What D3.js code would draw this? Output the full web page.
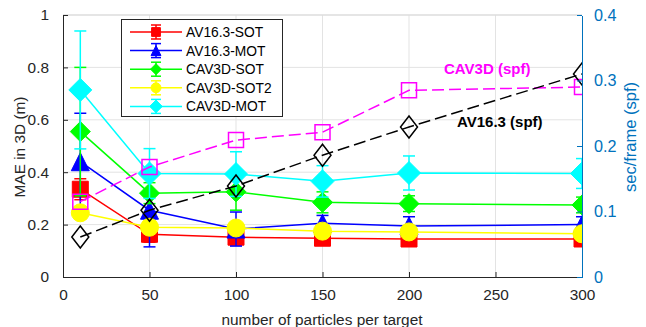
<!DOCTYPE html>
<html>
<head>
<meta charset="utf-8">
<script src="https://cdn.jsdelivr.net/npm/d3@7"></script>
<style>
body { margin: 0; background: #fff; }
text { font-family: "Liberation Sans", Arial, sans-serif; }
</style>
</head>
<body>
<script>
const w = 646
const h = 327
const box = {l: 63, r: 582, t: 15, b: 277}

// data
const particles = [10, 50, 100, 150, 200, 300]
const xTicks = [0, 50, 100, 150, 200, 250, 300]
const leftTicks = [0, 0.2, 0.4, 0.6, 0.8, 1]
const rightTicks = [0, 0.1, 0.2, 0.3, 0.4]

const av16Sot = [0.335, 0.163, 0.152, 0.148, 0.145, 0.145]
const av16SotErr = [0.04, 0.03, 0.03, 0.02, 0.02, 0.02]
const av16Mot = [0.44, 0.255, 0.183, 0.205, 0.195, 0.2]
const av16MotErr = [0.185, 0.14, 0.065, 0.03, 0.035, 0.03]
const cav3dSot = [0.555, 0.32, 0.325, 0.285, 0.28, 0.275]
const cav3dSotErr = [0.245, 0.04, 0.07, 0.04, 0.03, 0.03]
const cav3dSot2 = [0.245, 0.19, 0.187, 0.175, 0.172, 0.165]
const cav3dSot2Err = [0.02, 0.02, 0.02, 0.02, 0.02, 0.02]
const cav3dMot = [0.714, 0.395, 0.393, 0.365, 0.397, 0.395]
const cav3dMotErr = [0.225, 0.095, 0.085, 0.06, 0.065, 0.057]

const cav3dSpf = [0.115, 0.168, 0.209, 0.221, 0.285, 0.29]
const av16Spf = [0.061, 0.102, 0.139, 0.186, 0.229, 0.31]

const names = ['AV16.3-SOT', 'AV16.3-MOT', 'CAV3D-SOT', 'CAV3D-SOT2', 'CAV3D-MOT']
const colors = ['#ff0000', '#0000ff', '#00ff00', '#ffff00', '#00ffff']
const marks = ['square', 'triangle', 'diamond', 'circle', 'diamond']
const sizes = [16, 18, 20, 18, 23]
const values = [av16Sot, av16Mot, cav3dSot, cav3dSot2, cav3dMot]
const errors = [av16SotErr, av16MotErr, cav3dSotErr, cav3dSot2Err, cav3dMotErr]

const axisColor = '#262626'
const rightColor = '#0072BD'
const gridColor = '#e3e3e3'
const font = 15.4

const svg = d3.select('body').append('svg').attr('width', w).attr('height', h)

const x = d3.scaleLinear().domain([0, 300]).range([box.l, box.r])
const yL = d3.scaleLinear().domain([0, 1]).range([box.b, box.t])
const yR = d3.scaleLinear().domain([0, 0.4]).range([box.b, box.t])

function marker(type, s, sy) {
  const r = s / 2
  const ry = (sy || s) / 2
  if (type === 'square') return `M${-r},${-r}H${r}V${r}H${-r}Z`
  if (type === 'triangle') return `M0,${-ry}L${r},${ry}L${-r},${ry}Z`
  if (type === 'diamond') return `M0,${-ry}L${r},0L0,${ry}L${-r},0Z`
  return d3.symbol().type(d3.symbolCircle).size(Math.PI * r * r)()
}

// grid
svg.append('g').selectAll('line').data(xTicks.slice(1, -1)).enter().append('line')
  .attr('x1', d => x(d)).attr('x2', d => x(d)).attr('y1', box.t).attr('y2', box.b)
  .attr('stroke', gridColor).attr('stroke-width', 1)
svg.append('g').selectAll('line').data(leftTicks.slice(1)).enter().append('line')
  .attr('x1', box.l).attr('x2', box.r).attr('y1', d => yL(d)).attr('y2', d => yL(d))
  .attr('stroke', gridColor).attr('stroke-width', 1)

svg.append('defs').append('clipPath').attr('id', 'clip')
  .append('rect').attr('x', box.l).attr('y', box.t).attr('width', box.r - box.l).attr('height', box.b - box.t)

const plot = svg.append('g').attr('clip-path', 'url(#clip)')

values.forEach((vals, i) => {
  const g = plot.append('g')
  const pts = particles.map((p, j) => ({x: p, y: vals[j], e: errors[i][j]}))
  g.append('path').datum(pts)
    .attr('d', d3.line().x(d => x(d.x)).y(d => yL(d.y)))
    .attr('fill', 'none').attr('stroke', colors[i]).attr('stroke-width', 1.5)
  const eb = g.selectAll('.eb').data(pts).enter().append('g')
  eb.append('line').attr('x1', d => x(d.x)).attr('x2', d => x(d.x))
    .attr('y1', d => yL(d.y - d.e)).attr('y2', d => yL(d.y + d.e))
  eb.append('line').attr('x1', d => x(d.x) - 6).attr('x2', d => x(d.x) + 6)
    .attr('y1', d => yL(d.y - d.e)).attr('y2', d => yL(d.y - d.e))
  eb.append('line').attr('x1', d => x(d.x) - 6).attr('x2', d => x(d.x) + 6)
    .attr('y1', d => yL(d.y + d.e)).attr('y2', d => yL(d.y + d.e))
  eb.selectAll('line').attr('stroke', colors[i]).attr('stroke-width', 1.5)
  g.selectAll('.mk').data(pts).enter().append('path')
    .attr('transform', d => `translate(${x(d.x)},${yL(d.y)})`)
    .attr('d', marker(marks[i], sizes[i]))
    .attr('fill', colors[i]).attr('stroke', colors[i]).attr('stroke-width', 1)
})

// right axis series
const spf = [
  {vals: cav3dSpf, color: '#ff00ff', mark: 'square', s: 15, sy: 15},
  {vals: av16Spf, color: '#000000', mark: 'diamond', s: 17, sy: 22}
]
spf.forEach(sr => {
  const pts = particles.map((p, j) => ({x: p, y: sr.vals[j]}))
  plot.append('path').datum(pts)
    .attr('d', d3.line().x(d => x(d.x)).y(d => yR(d.y)))
    .attr('fill', 'none').attr('stroke', sr.color).attr('stroke-width', 1.5)
    .attr('stroke-dasharray', '12,5')
  plot.append('g').selectAll('path').data(pts).enter().append('path')
    .attr('transform', d => `translate(${x(d.x)},${yR(d.y)})`)
    .attr('d', marker(sr.mark, sr.s, sr.sy))
    .attr('fill', 'none').attr('stroke', sr.color).attr('stroke-width', 1.5)
})

// axes
svg.append('line').attr('x1', box.l).attr('x2', box.r).attr('y1', box.t).attr('y2', box.t)
  .attr('stroke', '#d9d9d9').attr('stroke-width', 1)

const xAxis = d3.axisBottom(x).tickValues(xTicks).tickSizeInner(-5).tickSizeOuter(0).tickPadding(12)
const gx = svg.append('g').attr('transform', `translate(0,${box.b})`).call(xAxis)
const leftAxis = d3.axisLeft(yL).tickValues(leftTicks).tickSizeInner(-5).tickSizeOuter(0).tickPadding(14)
  .tickFormat(d3.format('~g'))
const gl = svg.append('g').attr('transform', `translate(${box.l},0)`).call(leftAxis)
const rightAxis = d3.axisRight(yR).tickValues(rightTicks).tickSizeInner(-5).tickSizeOuter(0).tickPadding(12)
  .tickFormat(d3.format('~g'))
const gr = svg.append('g').attr('transform', `translate(${box.r},0)`).call(rightAxis)

;[gx, gl].forEach(g => {
  g.select('.domain').attr('stroke', axisColor).attr('stroke-width', 1)
  g.selectAll('.tick line').attr('stroke', axisColor)
  g.selectAll('.tick text').attr('fill', axisColor).style('font-size', font + 'px')
})
gr.select('.domain').attr('stroke', rightColor).attr('stroke-width', 1)
gr.selectAll('.tick line').attr('stroke', rightColor)
gr.selectAll('.tick text').attr('fill', rightColor).style('font-size', (font + 0.8) + 'px')
svg.selectAll('.domain').attr('shape-rendering', 'crispEdges')

// axis labels
svg.append('text').attr('x', 322).attr('y', 325).attr('text-anchor', 'middle')
  .attr('fill', axisColor).style('font-size', font + 'px').text('number of particles per target')
svg.append('text').attr('transform', 'translate(25,147) rotate(-90)').attr('text-anchor', 'middle')
  .attr('fill', axisColor).style('font-size', font + 'px').text('MAE in 3D (m)')
svg.append('text').attr('transform', 'translate(636,137) rotate(-90)').attr('text-anchor', 'middle')
  .attr('fill', rightColor).style('font-size', '16.5px').text('sec/frame (spf)')

// annotations
svg.append('text').attr('x', 444).attr('y', 74).attr('fill', '#ff00ff')
  .style('font-size', '15px').style('font-weight', 'bold').text('CAV3D (spf)')
svg.append('text').attr('x', 457).attr('y', 127).attr('fill', '#000')
  .style('font-size', '15px').style('font-weight', 'bold').text('AV16.3 (spf)')

// legend
const lg = svg.append('g')
lg.append('rect').attr('x', 121.5).attr('y', 19.5).attr('width', 161).attr('height', 97)
  .attr('fill', '#fff').attr('stroke', axisColor).attr('stroke-width', 1)
const rows = lg.selectAll('.row').data(names).enter().append('g')
  .attr('transform', (d, i) => `translate(0,${32 + i * 18.6})`)
rows.append('line').attr('x1', 130).attr('x2', 182).attr('y1', 0).attr('y2', 0)
  .attr('stroke', (d, i) => colors[i]).attr('stroke-width', 1.5)
rows.append('line').attr('x1', 156).attr('x2', 156).attr('y1', -7).attr('y2', 7)
  .attr('stroke', (d, i) => colors[i]).attr('stroke-width', 1.5)
rows.append('line').attr('x1', 151).attr('x2', 161).attr('y1', -7).attr('y2', -7)
  .attr('stroke', (d, i) => colors[i]).attr('stroke-width', 1.5)
rows.append('line').attr('x1', 151).attr('x2', 161).attr('y1', 7).attr('y2', 7)
  .attr('stroke', (d, i) => colors[i]).attr('stroke-width', 1.5)
rows.append('path').attr('transform', 'translate(156,0)')
  .attr('d', (d, i) => marker(marks[i], sizes[i] * 0.55))
  .attr('fill', (d, i) => colors[i]).attr('stroke', (d, i) => colors[i])
rows.append('text').attr('x', 186).attr('y', 5).attr('fill', '#000')
  .style('font-size', '13.8px').text(d => d)
</script>
</body>
</html>
